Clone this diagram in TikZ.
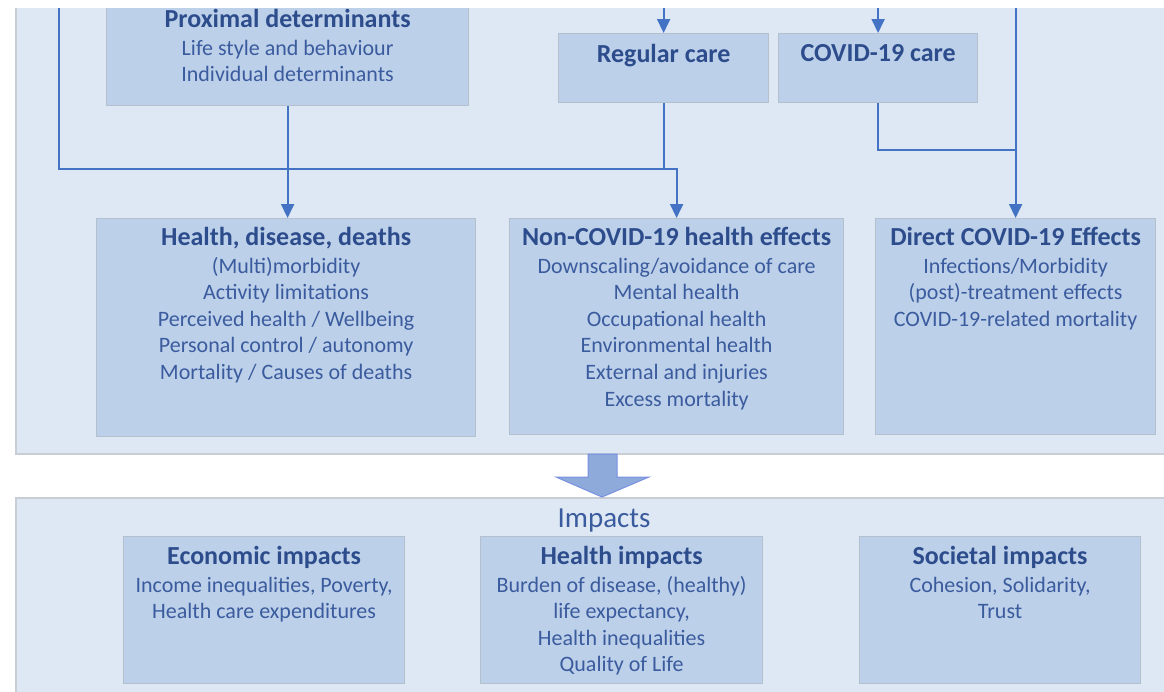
\documentclass[tikz,border=0pt]{standalone}
\usepackage{fontspec}
\setmainfont{Carlito}
\usetikzlibrary{arrows.meta,positioning}

\definecolor{panelbg}{HTML}{DEE8F4}
\definecolor{panelln}{HTML}{C9CED5}
\definecolor{boxbg}{HTML}{BDD0EA}
\definecolor{boxln}{HTML}{B5C0CE}
\definecolor{headtx}{HTML}{2D4C8C}
\definecolor{bodytx}{HTML}{3A5B9D}
\definecolor{flowln}{HTML}{4472C4}
\definecolor{bigarr}{HTML}{8EAADB}

\tikzset{
  panel/.style={fill=panelbg,draw=panelln,line width=1.5pt},
  box/.style={fill=boxbg,draw=boxln,line width=1.2pt,anchor=north west,inner sep=0pt},
  boxtext/.style={inner sep=0pt,align=center,text=bodytx,font=\fontsize{22}{26.6}\selectfont},
  flow/.style={draw=flowln,line width=2pt,-{Triangle[width=13pt,length=14pt]}},
  link/.style={draw=flowln,line width=2pt},
}
\newcommand{\boxhead}[1]{{\fontsize{26}{30}\selectfont\bfseries\color{headtx}#1}}

\begin{document}
\begin{tikzpicture}[x=1pt,y=-1pt]
\useasboundingbox (0,0) rectangle (1164,691);
\clip (0,8) rectangle (1164,691);

\path[panel] (16,0) rectangle (1190,454);
\path[panel] (16,498) rectangle (1190,720);

\node[box,minimum width=362pt,minimum height=105pt] (prox) at (106,0) {};
\node[box,minimum width=210pt,minimum height=69pt] (reg) at (558,33) {};
\node[box,minimum width=199pt,minimum height=69pt] (cov) at (778,33) {};
\node[box,minimum width=379pt,minimum height=218pt] (hdd) at (96,218) {};
\node[box,minimum width=334pt,minimum height=216pt] (nonc) at (509,218) {};
\node[box,minimum width=280pt,minimum height=216pt] (dir) at (875,218) {};
\node[box,minimum width=281pt,minimum height=147pt] (econ) at (123,536) {};
\node[box,minimum width=282pt,minimum height=147pt] (himp) at (480,536) {};
\node[box,minimum width=281pt,minimum height=147pt] (soc) at (859,536) {};

\node[boxtext,below=9pt of prox.north] (proxtxt) {\boxhead{Proximal determinants}\\[1pt] Life style and behaviour\\ Individual determinants};
\node[boxtext,below=11pt of reg.north] (regtxt) {\boxhead{Regular care}};
\node[boxtext,below=11pt of cov.north] (covtxt) {\boxhead{COVID-19 care}};
\node[boxtext,below=9pt of hdd.north] (hddtxt) {\boxhead{Health, disease, deaths}\\[1pt] (Multi)morbidity\\ Activity limitations\\ Perceived health / Wellbeing\\ Personal control / autonomy\\ Mortality / Causes of deaths};
\node[boxtext,below=9pt of nonc.north] (nonctxt) {\boxhead{Non-COVID-19 health effects}\\[1pt] Downscaling/avoidance of care\\ Mental health\\ Occupational health\\ Environmental health\\ External and injuries\\ Excess mortality};
\node[boxtext,below=9pt of dir.north] (dirtxt) {\boxhead{Direct COVID-19 Effects}\\[1pt] Infections/Morbidity\\ (post)-treatment effects\\ COVID-19-related mortality};
\node[boxtext,below=10pt of econ.north] (econtxt) {\boxhead{Economic impacts}\\[1pt] Income inequalities, Poverty,\\ Health care expenditures};
\node[boxtext,below=10pt of himp.north] (himptxt) {\boxhead{Health impacts}\\[1pt] Burden of disease, (healthy)\\ life expectancy,\\ Health inequalities\\ Quality of Life};
\node[boxtext,below=10pt of soc.north] (soctxt) {\boxhead{Societal impacts}\\[1pt] Cohesion, Solidarity,\\ Trust};

\node[inner sep=0pt,text=bodytx,font=\fontsize{29}{34}\selectfont] (imp) at (604,521) {Impacts};

\coordinate (inL) at (59,8);
\coordinate (inR) at (dir.north |- 0,8);
\coordinate (joinL) at (nonc.north |- 0,169);
\coordinate (joinR) at (dir.north |- 0,150);

\draw[flow] (reg.north |- inL) -- (reg.north);
\draw[flow] (cov.north |- inL) -- (cov.north);
\draw[flow] (prox.south) -- (prox.south |- hdd.north);
\draw[flow] (inL) |- (joinL) -- (nonc.north);
\draw[link] (reg.south) -- (reg.south |- joinL);
\draw[flow] (inR) -- (dir.north);
\draw[link] (cov.south) |- (joinR);

\draw[fill=bigarr,draw=bigarr!85!blue,line width=1pt] (588,454) -- (617,454) -- (617,477) -- (649,477) -- (602,497) -- (556,477) -- (588,477) -- cycle;
\end{tikzpicture}
\end{document}
